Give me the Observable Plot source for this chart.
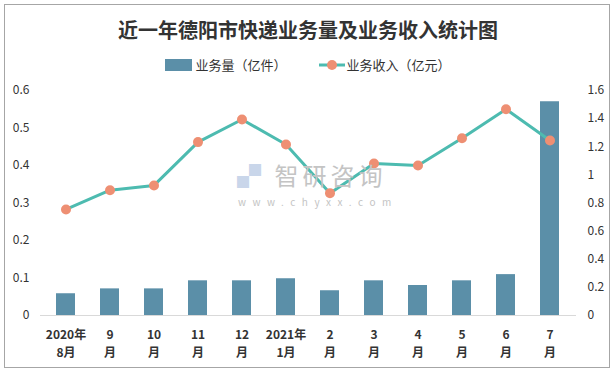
<!DOCTYPE html>
<html><head><meta charset="utf-8">
<script src="https://cdn.jsdelivr.net/npm/d3@7"></script>
<script src="https://cdn.jsdelivr.net/npm/@observablehq/plot@0.6"></script>
<style>
body{margin:0;background:#fff;font-family:"Noto Sans CJK SC","Noto Sans",sans-serif;}
#wrap{position:relative;width:616px;height:372px;overflow:hidden;}
#border{position:absolute;left:4px;top:4px;width:606px;height:364px;border:1px solid #a6a6a6;box-sizing:border-box;}
#title{position:absolute;left:0;top:15px;width:616px;text-align:center;font-size:20px;font-weight:bold;color:#333;}
#legend{position:absolute;left:0;top:55px;width:616px;display:flex;justify-content:center;align-items:center;font-size:13px;color:#333;}
.item{display:flex;align-items:center;margin:0 16px;}
#chart{position:absolute;left:0;top:80px;}
.wm{position:absolute;color:#c4c4c4;pointer-events:none;line-height:1;white-space:nowrap;}
</style></head>
<body><div id="wrap"><div id="border"></div>
<div id="title">近一年德阳市快递业务量及业务收入统计图</div>
<div id="legend">
 <div class="item"><svg width="28" height="12"><rect x="0" y="0" width="27" height="12" fill="#5b8fa8"/></svg><span style="margin-left:2px">业务量（亿件）</span></div>
 <div class="item"><svg width="26" height="12"><line x1="0" y1="6" x2="26" y2="6" stroke="#4dbbb0" stroke-width="3"/><circle cx="13" cy="6" r="5" fill="#ee8f73"/></svg><span style="margin-left:2px">业务收入（亿元）</span></div>
</div>
<div id="chart"></div>
<div class="wm" style="left:237px;top:163px;font-size:24px;letter-spacing:4px;"><span style="color:#c9d6ea">▞</span> 智研咨询</div>
<div class="wm" style="left:238px;top:197px;font-size:10px;letter-spacing:6.5px;">www.chyxx.com</div>
</div>
<script>
const months = ["2020年\n8月","9\n月","10\n月","11\n月","12\n月","2021年\n1月","2\n月","3\n月","4\n月","5\n月","6\n月","7\n月"];
const volume = [0.058,0.071,0.071,0.0925,0.0925,0.098,0.066,0.0925,0.08,0.0925,0.109,0.57];
const income = [0.754,0.891,0.925,1.233,1.394,1.216,0.870,1.081,1.067,1.261,1.467,1.245];
const leftTicks = [0,0.1,0.2,0.3,0.4,0.5,0.6];
const rightTicks = [0,0.2,0.4,0.6,0.8,1,1.2,1.4,1.6];

const data = months.map((m,i)=>({m, v: volume[i], r: income[i]}));
const k = 0.6/1.6;

const chart = Plot.plot({
  width: 616, height: 292,
  marginTop: 10, marginBottom: 57, marginLeft: 40, marginRight: 40,
  style: {fontFamily: '"Noto Sans CJK SC","Noto Sans",sans-serif', fontSize: "12px", color: "#333"},
  x: {domain: months, paddingInner: 0.565, paddingOuter: 0.2825, label: null},
  y: {domain: [0,0.6], label: null},
  marks: [
    Plot.axisX({tickSize: 0, tickPadding: 11, fontWeight: "bold", fontSize: 12, lineHeight: 1.5, label: null}),
    Plot.axisY({ticks: leftTicks, tickSize: 0, tickPadding: 11, tickFormat: d => String(+d.toFixed(2)), label: null}),
    Plot.axisY(rightTicks.map(d => d*k), {anchor: "right", tickSize: 0, tickPadding: 11, tickFormat: d => String(+(d/k).toFixed(1)), label: null}),
    Plot.barY(data, {x: "m", y: "v", fill: "#5b8fa8"}),
    Plot.ruleY([0], {stroke: "#d9d9d9", strokeWidth: 1}),
    Plot.line(data, {x: "m", y: d => d.r*k, stroke: "#4dbbb0", strokeWidth: 3}),
    Plot.dot(data, {x: "m", y: d => d.r*k, r: 5, fill: "#ee8f73", stroke: "none"})
  ]
});
document.getElementById("chart").append(chart);
</script></body></html>
